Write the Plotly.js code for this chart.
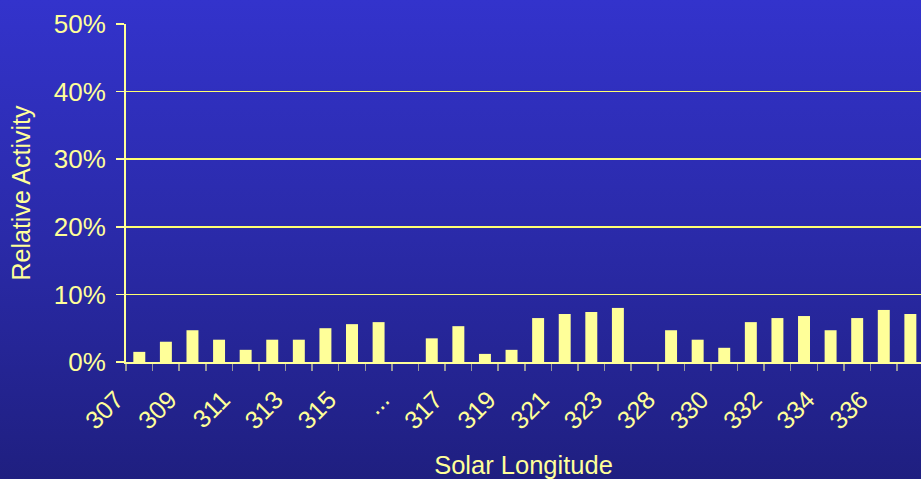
<!DOCTYPE html>
<html>
<head>
<meta charset="utf-8">
<script src="https://cdn.plot.ly/plotly-3.0.1.min.js"></script>
<style>
  html, body { margin: 0; padding: 0; }
  body { width: 921px; height: 479px; overflow: hidden;
         background: linear-gradient(to bottom, #3333cc 0%, #2a2aa8 50%, #1f1f80 100%); }
  #chart { width: 921px; height: 479px; }
</style>
</head>
<body>
<div id="chart"></div>
<script>
// Solar longitude categories ("..." and the slot before 328 are gaps)
const categories = ['307','308','309','310','311','312','313','314','315','316','...',
                    '316a','317','318','319','320','321','322','323','324','328','329',
                    '330','331','332','333','334','335','336','337'];
// Relative activity (fraction)
const activity = [0.015,0.030,0.047,0.033,0.018,0.033,0.033,0.050,0.056,0.059,null,
                  0.035,0.053,0.012,0.018,0.065,0.071,0.074,0.080,null,0.047,0.033,
                  0.021,0.059,0.065,0.068,0.047,0.065,0.077,0.071];
// Tick labels shown (every other category)
const tickLabels = ['307','','309','','311','','313','','315','','...',
                    '','317','','319','','321','','323','','328','',
                    '330','','332','','334','','336',''];

const fg = '#ffff99';
const font = {family: 'Liberation Sans, Arial, sans-serif', color: fg};

Plotly.newPlot('chart', [{
  type: 'bar',
  x: categories,
  y: activity,
  marker: {color: fg, line: {width: 0}},
  hoverinfo: 'skip'
}], {
  width: 921, height: 479,
  margin: {l: 126, r: 0, t: 24, b: 117},
  paper_bgcolor: 'rgba(0,0,0,0)',
  plot_bgcolor: 'rgba(0,0,0,0)',
  bargap: 0.55,
  showlegend: false,
  font: font,
  xaxis: {
    type: 'category',
    range: [-0.5, 29.4],
    tickmode: 'array',
    tickvals: categories,
    ticktext: tickLabels,
    tickangle: -45,
    tickson: 'boundaries',
    ticks: 'outside', ticklen: 7, tickwidth: 1.5, tickcolor: '#9a9a9a',
    tickfont: {size: 25, color: fg, family: font.family},
    ticklabelshift: -23,
    ticklabelstandoff: 11,
    showline: true, linecolor: fg, linewidth: 2,
    showgrid: false, zeroline: false,
    title: {text: 'Solar Longitude', font: {size: 25.5, color: fg, family: font.family}, standoff: 24}
  },
  yaxis: {
    range: [0, 0.5],
    dtick: 0.1,
    tickformat: '.0%',
    ticks: 'outside', ticklen: 8, tickwidth: 1.5, tickcolor: fg,
    tickfont: {size: 26, color: fg, family: font.family},
    ticklabelstandoff: 5,
    showline: true, linecolor: fg, linewidth: 2,
    showgrid: true, gridcolor: '#ffff70', gridwidth: 1.5,
    zeroline: false,
    title: {text: 'Relative Activity', font: {size: 25, color: fg, family: font.family}, standoff: 16}
  }
}, {staticPlot: true});
</script>
</body>
</html>
